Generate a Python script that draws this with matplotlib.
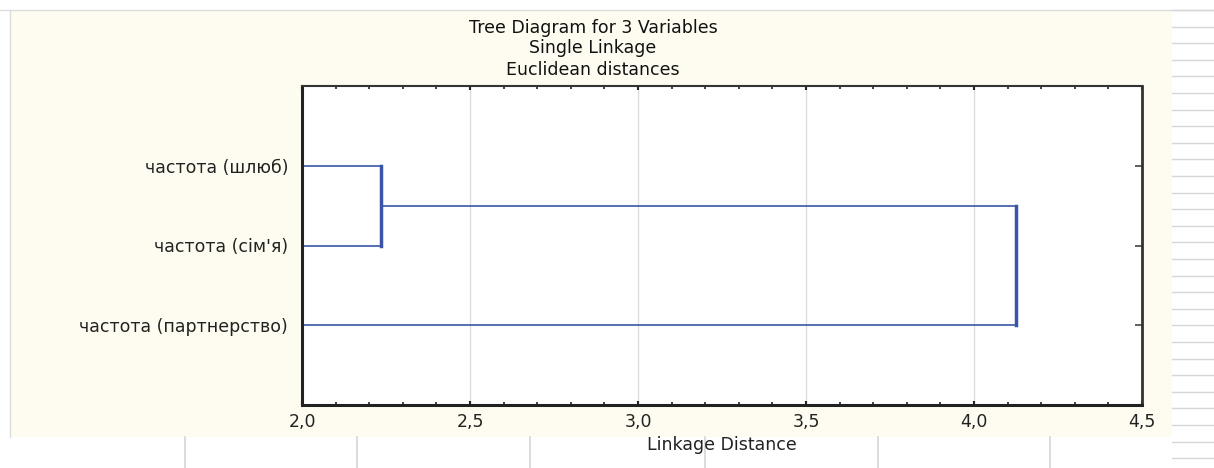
import matplotlib.pyplot as plt
from matplotlib.lines import Line2D
from matplotlib.patches import Rectangle
from matplotlib.ticker import MultipleLocator, FuncFormatter

# data
labels = ['частота (шлюб)', "частота (сім'я)", 'частота (партнерство)']
leaf_pos = [1, 2, 3]
merge_dist = [2.235, 4.125]
title_lines = ['Tree Diagram for 3 Variables', 'Single Linkage', 'Euclidean distances']
x_ticks = [2.0, 2.5, 3.0, 3.5, 4.0, 4.5]

plt.rcParams['font.family'] = ['DejaVu Sans']
W, H = 1214, 468
fig = plt.figure(figsize=(W / 100, H / 100), dpi=100)
fig.patch.set_facecolor('white')

# spreadsheet-like background
cream = '#FEFCF0'
bg = Rectangle((10 / W, 1 - 437 / H), (1172 - 10) / W, (437 - 10) / H,
               transform=fig.transFigure, facecolor=cream, edgecolor='none', zorder=-5)
fig.add_artist(bg)
fig.add_artist(Line2D([0, 1], [1 - 10 / H] * 2, color='#DCDCDC', lw=1, zorder=-4))
fig.add_artist(Line2D([10 / W] * 2, [1 - 10 / H, 1 - 437 / H], color='#DCDCDC', lw=1, zorder=-4))
y = 10.0
while y < H:
    fig.add_artist(Line2D([1172 / W, 1], [1 - y / H] * 2, color='#D6D6D6', lw=1, zorder=-4))
    y += 16.6
for xv in [185, 357, 530, 705, 878, 1050]:
    fig.add_artist(Line2D([xv / W] * 2, [0, 1 - 437 / H], color='#D6D6D6', lw=1.2, zorder=-4))

ax = fig.add_axes([302 / W, 1 - 405 / H, (1142 - 302) / W, (405 - 86) / H])
ax.set_facecolor('white')

blue = '#3A55A8'
# link 1: leaf 1 + leaf 2
y1, y2, y3 = leaf_pos
ax.plot([0, merge_dist[0]], [y1, y1], color=blue, lw=1.2)
ax.plot([0, merge_dist[0]], [y2, y2], color=blue, lw=1.2)
ax.plot([merge_dist[0]] * 2, [y1, y2], color=blue, lw=2.5)
ymid = (y1 + y2) / 2
# link 2: cluster + leaf 3
ax.plot([merge_dist[0], merge_dist[1]], [ymid, ymid], color=blue, lw=1.2)
ax.plot([0, merge_dist[1]], [y3, y3], color=blue, lw=1.2)
ax.plot([merge_dist[1]] * 2, [ymid, y3], color=blue, lw=2.5)

ax.set_xlim(2.0, 4.5)
ax.set_ylim(4.0, 0.0)
ax.set_xticks(x_ticks)
ax.xaxis.set_minor_locator(MultipleLocator(0.1))
ax.xaxis.set_major_formatter(FuncFormatter(lambda v, p: f'{v:.1f}'.replace('.', ',')))
ax.set_yticks(leaf_pos)
ax.set_yticklabels(labels)
ax.grid(axis='x', color='#DDDDDD', lw=1)
ax.set_axisbelow(True)

ax.tick_params(axis='x', which='major', direction='in', top=True, bottom=True,
               length=3, width=1.5, color='#222222', pad=6, labelsize=12.5,
               labelcolor='#222222')
ax.tick_params(axis='x', which='minor', direction='in', top=True, bottom=True,
               length=2, width=1.2, color='#222222')
ax.tick_params(axis='y', direction='in', left=False, right=True, length=5,
               width=1.2, color='#444444', pad=10, labelsize=12.5, labelcolor='#222222')
for s in ['left', 'bottom']:
    ax.spines[s].set_linewidth(2.2)
    ax.spines[s].set_color('#222222')
ax.spines['right'].set_linewidth(2)
ax.spines['right'].set_color('#333333')
ax.spines['top'].set_linewidth(1.5)
ax.spines['top'].set_color('#333333')

ax.set_xlabel('Linkage Distance', fontsize=12.5, labelpad=3, color='#222222')

for t, yy in zip(title_lines, [28, 48, 70]):
    fig.text(593 / W, 1 - yy / H, t, ha='center', va='center', fontsize=12.5, color='#111111')

fig.savefig('out.png', dpi=100, facecolor='white')
